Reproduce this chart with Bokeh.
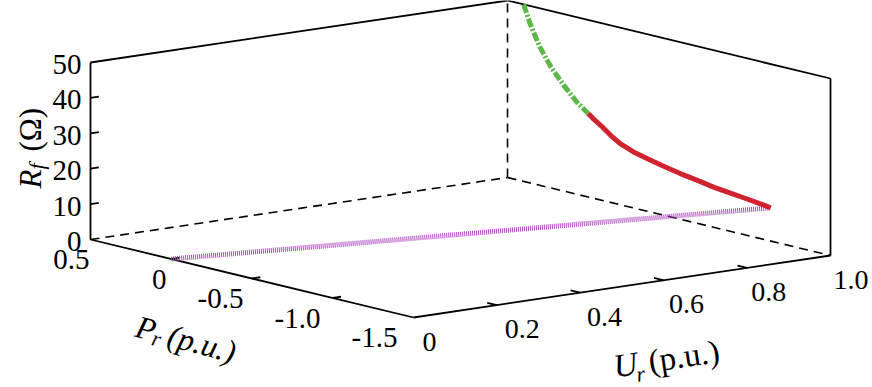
import numpy as np
from bokeh.plotting import figure
from bokeh.models import Range1d
from bokeh.core.properties import value
from bokeh.embed import file_html
from bokeh.resources import INLINE

# ---------------- data ----------------
P_MIN, P_MAX = -1.5, 0.5
U_MIN, U_MAX = 0.0, 1.0
R_MIN, R_MAX = 0.0, 50.0

p_ticks = [0.5, 0.0, -0.5, -1.0, -1.5]
p_labels = ["0.5", "0", "-0.5", "-1.0", "-1.5"]
u_ticks = [0.0, 0.2, 0.4, 0.6, 0.8, 1.0]
u_labels = ["0", "0.2", "0.4", "0.6", "0.8", "1.0"]
r_ticks = [0, 10, 20, 30, 40, 50]
r_labels = ["0", "10", "20", "30", "40", "50"]

# green dash-dot segment (P > 0)
green_P = [0.40, 0.36, 0.33, 0.30, 0.23, 0.15, 0.07, 0.0]
green_U = [1.0, 1.0, 1.0, 1.0, 1.0, 1.0, 1.0, 1.0]
green_R = [50.0, 45.0, 42.0, 39.1, 34.1, 29.8, 26.0, 23.6]
# red solid segment (P < 0)
red_P = [0.0, -0.03, -0.08, -0.14, -0.20, -0.28, -0.37, -0.47,
         -0.57, -0.68, -0.78, -0.88, -0.98, -1.07, -1.13]
red_U = [1.0] * 15
red_R = [23.6, 22.5, 21.0, 18.9, 17.2, 15.8, 14.8, 13.8,
         12.9, 12.1, 11.3, 10.8, 10.3, 9.8, 9.4]
# purple dotted segment
purple_P = [0.0, -1.13]
purple_U = [0.0, 1.0]
purple_R = [0.0, 9.4]

# ---------------- view (projection) ----------------
W, H = 872, 387
ORIGIN = (90.0, 239.0)
VEC_P = (323.0, 78.0)
VEC_U = (417.0, -62.0)
VEC_R = (0.0, -177.0)

def frac_p(P):
    return (P_MAX - np.asarray(P, float)) / (P_MAX - P_MIN)

def frac_u(U):
    return (np.asarray(U, float) - U_MIN) / (U_MAX - U_MIN)

def proj(P, U, R):
    R = np.asarray(R, float)
    f = frac_p(P)
    g = frac_u(U)
    h = (R - R_MIN) / (R_MAX - R_MIN)
    x = ORIGIN[0] + f * VEC_P[0] + g * VEC_U[0] + h * VEC_R[0]
    y = ORIGIN[1] + f * VEC_P[1] + g * VEC_U[1] + h * VEC_R[1]
    return x, y

FONT = value("Liberation Serif")

p = figure(width=W, height=H, x_range=Range1d(0, W), y_range=Range1d(H, 0),
           output_backend="svg", toolbar_location=None,
           x_axis_type=None, y_axis_type=None, min_border=0)
p.outline_line_color = None
p.xgrid.visible = False
p.ygrid.visible = False
p.background_fill_color = "white"
p.border_fill_color = "white"

def seg(a, b, **kw):
    x, y = proj([a[0], b[0]], [a[1], b[1]], [a[2], b[2]])
    p.line(x, y, **kw)

solid = dict(line_color="black", line_width=1.8)
dashed = dict(line_color="black", line_width=1.6, line_dash="9 6")

# back (dashed) edges
seg((P_MAX, U_MIN, R_MIN), (P_MAX, U_MAX, R_MIN), **dashed)
seg((P_MAX, U_MAX, R_MIN), (P_MIN, U_MAX, R_MIN), **dashed)
seg((P_MAX, U_MAX, R_MIN), (P_MAX, U_MAX, R_MAX), **dashed)
# solid edges
seg((P_MAX, U_MIN, R_MIN), (P_MIN, U_MIN, R_MIN), **solid)
seg((P_MIN, U_MIN, R_MIN), (P_MIN, U_MAX, R_MIN), **solid)
seg((P_MAX, U_MIN, R_MIN), (P_MAX, U_MIN, R_MAX), **solid)
seg((P_MIN, U_MAX, R_MIN), (P_MIN, U_MAX, R_MAX), **solid)
seg((P_MAX, U_MIN, R_MAX), (P_MAX, U_MAX, R_MAX), **solid)
seg((P_MAX, U_MAX, R_MAX), (P_MIN, U_MAX, R_MAX), **solid)

# ticks
for t in p_ticks[1:-1]:
    seg((t, U_MIN, R_MIN), (t, U_MIN + 0.02, R_MIN), **solid)
for t in u_ticks[1:-1]:
    seg((P_MIN, t, R_MIN), (P_MIN + 0.06, t, R_MIN), **solid)
for t in r_ticks[1:-1]:
    seg((P_MAX, U_MIN, t), (P_MAX, U_MIN + 0.02, t), **solid)

# tick labels
tx, ty = proj(p_ticks, [U_MIN] * len(p_ticks), [R_MIN] * len(p_ticks))
tx = tx - 1 - 15 * frac_p(p_ticks)
p.text(x=tx, y=ty + 20, text=p_labels, text_font=FONT, text_font_size="29px",
       text_align="right", text_baseline="middle", text_color="black")
tx, ty = proj([P_MIN] * len(u_ticks), u_ticks, [R_MIN] * len(u_ticks))
tx = tx + 9 - 6 * frac_u(u_ticks)
p.text(x=tx, y=ty + 24, text=u_labels, text_font=FONT, text_font_size="28px",
       text_align="left", text_baseline="middle", text_color="black")
tx, ty = proj([P_MAX] * len(r_ticks), [U_MIN] * len(r_ticks), r_ticks)
p.text(x=tx - 9, y=ty + 2, text=r_labels, text_font=FONT, text_font_size="29px",
       text_align="right", text_baseline="middle", text_color="black")

# data curves
x, y = proj(purple_P, purple_U, purple_R)
p.line(x, y, line_color="#b04cc0", line_width=5, line_dash="1 1")
x, y = proj(green_P, green_U, green_R)
p.line(x, y, line_color="#5cb848", line_width=5, line_dash="9 2 2 2")
x, y = proj(red_P, red_U, red_R)
p.line(x, y, line_color="#cf2330", line_width=5, line_join="round")

# axis titles
def txt(x, y, s, size, ang, italic=False):
    p.text(x=[x], y=[y], text=[s], text_font=FONT, text_font_size=size,
           text_font_style="italic" if italic else "normal",
           angle=ang, angle_units="deg", text_align="left",
           text_baseline="alphabetic", text_color="black")

# R_f (Ω) vertical
txt(30, 188, "R", "31px", 90, True)
txt(36, 169, "f", "22px", 90, True)
txt(30, 151, "(Ω)", "31px", 90)
# P_r (p.u.)
txt(136, 325, "P", "32px", -15, True)
txt(152, 337, "r", "22px", -15, True)
txt(168, 334, "(p.u.)", "32px", -15, True)
# U_r (p.u.)
txt(613, 366, "U", "33px", 8.5, True)
txt(636, 374, "r", "22px", 8.5, True)
txt(648, 361, "(p.u.)", "33px", 8.5)

open("out.html", "w").write(file_html(p, INLINE))
